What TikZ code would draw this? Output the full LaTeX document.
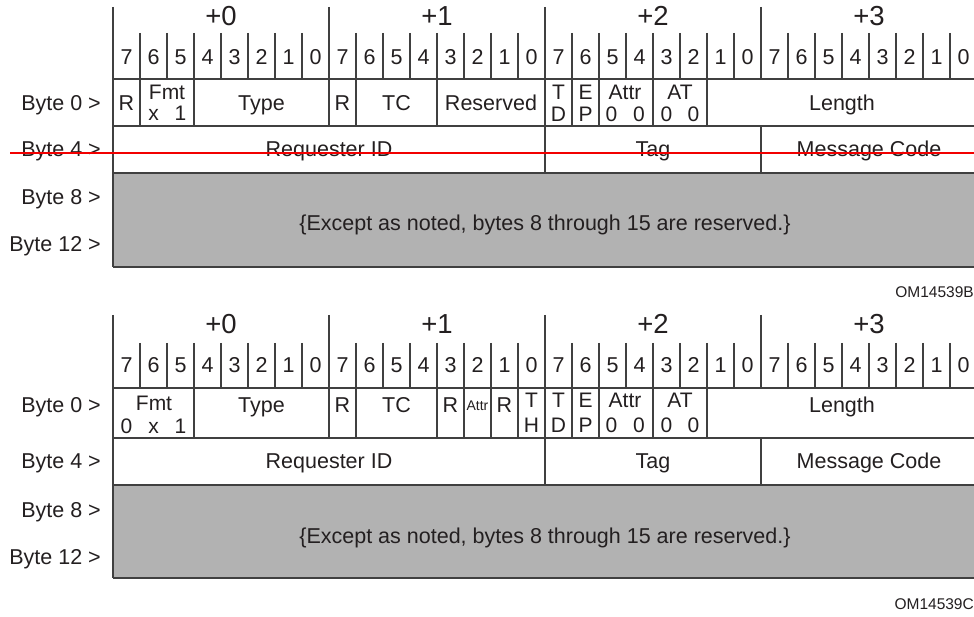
\documentclass[tikz,border=0pt]{standalone}
\usepackage{fontspec}
\setmainfont{Liberation Sans}
\definecolor{lncol}{HTML}{404040}
\definecolor{tx}{HTML}{231F20}
\definecolor{fillg}{HTML}{B2B2B2}
\definecolor{redl}{HTML}{F20000}
\begin{document}
\begin{tikzpicture}[x=1pt,y=-1pt,
  ln/.style={draw=lncol, line width=1.3pt},
  t/.style={font=\fontsize{21.5}{24}\selectfont, text=tx, anchor=base, inner sep=0pt},
  hd/.style={t, font=\fontsize{27.5}{30}\selectfont},
  tw/.style={t, font=\fontsize{21}{22}\selectfont},
  sm/.style={t, font=\fontsize{14}{16}\selectfont},
  om/.style={t, font=\fontsize{15.5}{18}\selectfont, anchor=base east},
  bl/.style={t, anchor=base east}]
\useasboundingbox (0,0) rectangle (974,617);

% ================= TOP DIAGRAM =================
\fill[fillg] (113,173) rectangle (977,267);
\draw[ln] (113,7) -- (113,267);
\foreach \x in {329,545,761} \draw[ln] (\x,7) -- (\x,79);
\foreach \i in {1,...,31} {
  \pgfmathtruncatemacro\m{mod(\i,8)}
  \ifnum\m>0 \draw[ln] ({113+27*\i},33) -- ({113+27*\i},79); \fi
}
\foreach \y in {79,126,173,267} \draw[ln] (113,\y) -- (977,\y);
\foreach \x in {140,194,329,356,437,545,572,599,653,707} \draw[ln] (\x,79) -- (\x,126);
\foreach \x in {545,761} \draw[ln] (\x,126) -- (\x,173);

\node[hd] (ah0) at (221,25.5) {+0};
\node[hd] (ah1) at (437,25.5) {+1};
\node[hd] (ah2) at (653,25.5) {+2};
\node[hd] (ah3) at (869,25.5) {+3};
\foreach \i in {0,...,31} {
  \pgfmathtruncatemacro\d{7-mod(\i,8)}
  \node[t] (ab\i) at ({126.5+27*\i},64.5) {\d};
}
\node[bl] (al0) at (101,111) {Byte 0 >};
\node[bl] (al4) at (101,157) {Byte 4 >};
\node[bl] (al8) at (101,205) {Byte 8 >};
\node[bl] (al12) at (101,252) {Byte 12 >};

\node[t] (aR1) at (126.5,111) {R};
\node[tw] (aFmt) at (167,100) {Fmt};
\node[tw] (aFx) at (153.5,121) {x};
\node[tw] (aF1) at (180.5,121) {1};
\node[t] (aType) at (261.5,111) {Type};
\node[t] (aR2) at (342.5,111) {R};
\node[t] (aTC) at (396.5,111) {TC};
\node[t] (aRes) at (491,111) {Reserved};
\node[tw] (aT) at (558.5,100) {T};
\node[tw] (aD) at (558.5,122) {D};
\node[tw] (aE) at (585.5,100) {E};
\node[tw] (aP) at (585.5,122) {P};
\node[tw] (aAttr) at (625,100) {Attr};
\node[tw] (aA0) at (611.5,122) {0};
\node[tw] (aA1) at (639,122) {0};
\node[tw] (aAT) at (680,100) {AT};
\node[tw] (aT0) at (666.5,122) {0};
\node[tw] (aT1) at (693.5,122) {0};
\node[t] (aLen) at (842,111) {Length};
\node[t] (aReq) at (329,157) {Requester ID};
\node[t] (aTag) at (653,157) {Tag};
\node[t] (aMsg) at (869,157) {Message Code};
\node[t] (aExc) at (545,231) {\{Except as noted, bytes 8 through 15 are reserved.\}};
\node[om] (aOM) at (974,298) {OM14539B};
\coordinate (rl) at (10,153);
\coordinate (rr) at (974,153);
\draw[redl, line width=1.4pt] (rl) -- (rr);

% ================= BOTTOM DIAGRAM =================
\fill[fillg] (113,485) rectangle (977,578);
\draw[ln] (113,315) -- (113,578);
\foreach \x in {329,545,761} \draw[ln] (\x,315) -- (\x,388);
\foreach \i in {1,...,31} {
  \pgfmathtruncatemacro\m{mod(\i,8)}
  \ifnum\m>0 \draw[ln] ({113+27*\i},343) -- ({113+27*\i},388); \fi
}
\foreach \y in {388,438,485,578} \draw[ln] (113,\y) -- (977,\y);
\foreach \x in {194,329,356,437,464,491,518,545,572,599,653,707} \draw[ln] (\x,388) -- (\x,438);
\foreach \x in {545,761} \draw[ln] (\x,438) -- (\x,485);

\node[hd] (bh0) at (221,333.5) {+0};
\node[hd] (bh1) at (437,333.5) {+1};
\node[hd] (bh2) at (653,333.5) {+2};
\node[hd] (bh3) at (869,333.5) {+3};
\foreach \i in {0,...,31} {
  \pgfmathtruncatemacro\d{7-mod(\i,8)}
  \node[t] (bb\i) at ({126.5+27*\i},372.5) {\d};
}
\node[bl] (bl0) at (101,412) {Byte 0 >};
\node[bl] (bl4) at (101,468) {Byte 4 >};
\node[bl] (bl8) at (101,517) {Byte 8 >};
\node[bl] (bl12) at (101,564) {Byte 12 >};

\node[tw] (bFmt) at (154,410) {Fmt};
\node[tw] (bF0) at (126.5,433) {0};
\node[tw] (bFx) at (153.5,433) {x};
\node[tw] (bF1) at (180.5,433) {1};
\node[t] (bType) at (261.5,412) {Type};
\node[t] (bR2) at (342.5,412) {R};
\node[t] (bTC) at (396.5,412) {TC};
\node[t] (bR3) at (450.5,412) {R};
\node[sm] (bAs) at (477.5,410) {Attr};
\node[t] (bR4) at (504.5,412) {R};
\node[tw] (bTh) at (531.5,407) {T};
\node[tw] (bH) at (531.5,432.5) {H};
\node[tw] (bT) at (558.5,407) {T};
\node[tw] (bD) at (558.5,432.5) {D};
\node[tw] (bE) at (585.5,407) {E};
\node[tw] (bP) at (585.5,432.5) {P};
\node[tw] (bAttr) at (625,407) {Attr};
\node[tw] (bA0) at (611.5,432.5) {0};
\node[tw] (bA1) at (639,432.5) {0};
\node[tw] (bAT) at (680,407) {AT};
\node[tw] (bT0) at (666.5,432.5) {0};
\node[tw] (bT1) at (693.5,432.5) {0};
\node[t] (bLen) at (842,412) {Length};
\node[t] (bReq) at (329,468) {Requester ID};
\node[t] (bTag) at (653,468) {Tag};
\node[t] (bMsg) at (869,468) {Message Code};
\node[t] (bExc) at (545,543) {\{Except as noted, bytes 8 through 15 are reserved.\}};
\node[om] (bOM) at (974,609) {OM14539C};
\end{tikzpicture}
\end{document}
